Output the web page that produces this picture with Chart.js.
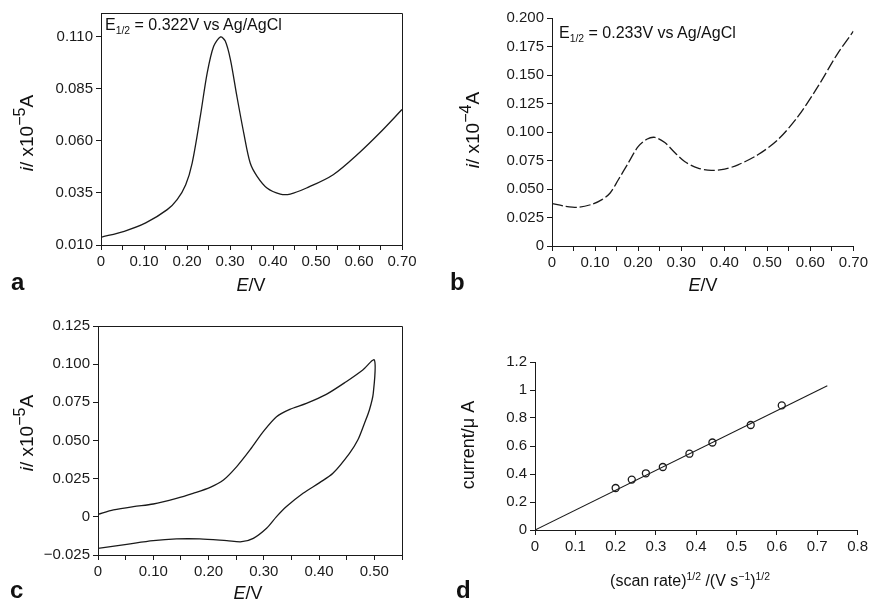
<!DOCTYPE html>
<html>
<head>
<meta charset="utf-8">
<script src="https://cdn.jsdelivr.net/npm/chart.js@4"></script>
<style>
  html,body{margin:0;padding:0;background:#fff;}
  body{width:871px;height:601px;position:relative;overflow:hidden;font-family:"Liberation Sans",Arial,Helvetica,sans-serif;color:#111;}
  canvas{position:absolute;}
  .t{position:absolute;white-space:nowrap;line-height:1;}
  .ytitle{transform:translate(-50%,-50%) rotate(-90deg);font-size:19px;}
  .ytitle sup{font-size:85%;}
  .xtitle{transform:translate(-50%,-50%);font-size:18px;}
  .lab{font-weight:bold;font-size:24px;}
  .ann{font-size:16px;}
  sub,sup{font-size:65%;line-height:0;}
</style>
</head>
<body>
<canvas id="ca" width="435" height="300" style="left:0;top:0;"></canvas>
<canvas id="cb" width="431" height="300" style="left:440px;top:0;"></canvas>
<canvas id="cc" width="435" height="301" style="left:0;top:300px;"></canvas>
<canvas id="cd" width="431" height="301" style="left:440px;top:300px;"></canvas>

<div class="t ann" style="left:105px;top:17px;">E<sub>1/2</sub> = 0.322V vs Ag/AgCl</div>
<div class="t ann" style="left:559px;top:25px;">E<sub>1/2</sub> = 0.233V vs Ag/AgCl</div>

<div class="t ytitle" style="left:26px;top:133px;"><i>i</i>/ x10<sup>−5</sup>A</div>
<div class="t ytitle" style="left:472px;top:130px;"><i>i</i>/ x10<sup>−4</sup>A</div>
<div class="t ytitle" style="left:26px;top:433px;"><i>i</i>/ x10<sup>−5</sup>A</div>
<div class="t ytitle" style="left:468px;top:445px;font-size:18px;">current/μ A</div>

<div class="t xtitle" style="left:251px;top:285px;"><i>E</i>/V</div>
<div class="t xtitle" style="left:703px;top:285px;"><i>E</i>/V</div>
<div class="t xtitle" style="left:248px;top:593px;"><i>E</i>/V</div>
<div class="t xtitle" style="left:690px;top:581px;font-size:16px;">(scan rate)<sup>1/2</sup> /(V s<sup>−1</sup>)<sup>1/2</sup></div>

<div class="t lab" style="left:11px;top:270px;">a</div>
<div class="t lab" style="left:450px;top:270px;">b</div>
<div class="t lab" style="left:10px;top:578px;">c</div>
<div class="t lab" style="left:456px;top:578px;">d</div>

<script>
// ---------- Panel a data ----------
const aE = [0,0.054,0.104,0.154,0.177,0.197,0.212,0.231,0.247,0.262,0.278,0.289,0.301,0.316,0.332,0.347,0.363,0.386,0.417,0.440,0.478,0.540,0.602,0.648,0.700];
const aI = [0.0137,0.0166,0.0206,0.0270,0.0318,0.0390,0.0494,0.0719,0.0927,0.1055,0.1100,0.1080,0.0991,0.0815,0.0638,0.0494,0.0430,0.0374,0.0345,0.0345,0.0374,0.0438,0.0546,0.0638,0.0751];
const aXTicks = [0,0.05,0.10,0.15,0.20,0.25,0.30,0.35,0.40,0.45,0.50,0.55,0.60,0.65,0.70];
const aXLabels = ['0','','0.10','','0.20','','0.30','','0.40','','0.50','','0.60','','0.70'];
const aYTicks = [0.010,0.035,0.060,0.085,0.110];
const aYLabels = ['0.010','0.035','0.060','0.085','0.110'];

// ---------- Panel b data ----------
const bE = [0,0.031,0.062,0.093,0.116,0.135,0.154,0.177,0.200,0.220,0.239,0.262,0.285,0.308,0.339,0.370,0.401,0.432,0.478,0.524,0.571,0.617,0.663,0.700];
const bI = [0.0372,0.0349,0.0340,0.0366,0.0407,0.0465,0.0581,0.0727,0.0872,0.0936,0.0953,0.0907,0.0820,0.0741,0.0683,0.0663,0.0674,0.0712,0.0800,0.0930,0.1134,0.1395,0.1686,0.1884];
const bXTicks = [0,0.05,0.10,0.15,0.20,0.25,0.30,0.35,0.40,0.45,0.50,0.55,0.60,0.65,0.70];
const bXLabels = ['0','','0.10','','0.20','','0.30','','0.40','','0.50','','0.60','','0.70'];
const bYTicks = [0,0.025,0.050,0.075,0.100,0.125,0.150,0.175,0.200];
const bYLabels = ['0','0.025','0.050','0.075','0.100','0.125','0.150','0.175','0.200'];

// ---------- Panel c data (cyclic voltammogram, closed loop) ----------
const cE = [0,0.028,0.064,0.100,0.142,0.172,0.203,0.227,0.251,0.275,0.299,0.323,0.347,0.377,0.413,0.449,0.479,0.500,
            0.498,0.491,0.482,0.470,0.455,0.425,0.401,0.371,0.341,0.323,0.305,0.281,0.260,0.233,0.184,0.142,0.100,0.052,0];
const cI = [0.0016,0.0045,0.0067,0.0084,0.0121,0.0154,0.0193,0.0241,0.0329,0.0438,0.0558,0.0656,0.0704,0.0743,0.0802,0.0885,0.0962,0.1027,
            0.0809,0.0700,0.0612,0.0503,0.0416,0.0285,0.0224,0.0154,0.0067,0.0001,-0.0075,-0.0141,-0.0163,-0.0156,-0.0145,-0.0145,-0.0156,-0.0180,-0.0206];
const cXTicks = [0,0.05,0.10,0.15,0.20,0.25,0.30,0.35,0.40,0.45,0.50,0.55];
const cXLabels = ['0','','0.10','','0.20','','0.30','','0.40','','0.50',''];
const cYTicks = [-0.025,0,0.025,0.050,0.075,0.100,0.125];
const cYLabels = ['−0.025','0','0.025','0.050','0.075','0.100','0.125'];

// ---------- Panel d data ----------
const dX = [0.200,0.240,0.275,0.317,0.383,0.440,0.535,0.612];
const dY = [0.300,0.360,0.405,0.450,0.545,0.625,0.750,0.890];
const dFitX = [0,0.725];
const dFitY = [0,1.03];
const dXTicks = [0,0.1,0.2,0.3,0.4,0.5,0.6,0.7,0.8];
const dXLabels = ['0','0.1','0.2','0.3','0.4','0.5','0.6','0.7','0.8'];
const dYTicks = [0,0.2,0.4,0.6,0.8,1.0,1.2];
const dYLabels = ['0','0.2','0.4','0.6','0.8','1','1.2'];

const F = '"Liberation Sans", Arial, Helvetica, sans-serif';
const INK = '#1a1a1a';

const frame = {
  id: 'frame',
  afterDraw(chart) {
    const {ctx, chartArea: a} = chart;
    ctx.save();
    ctx.strokeStyle = INK;
    ctx.lineWidth = 1;
    const l = Math.round(a.left) + 0.5, t = Math.round(a.top) + 0.5;
    const r = Math.round(a.right) + 0.5, b = Math.round(a.bottom) + 0.5;
    ctx.beginPath();
    ctx.moveTo(l, t); ctx.lineTo(r, t); ctx.lineTo(r, b);
    ctx.stroke();
    ctx.restore();
  }
};

function axis(min, max, ticks, labels, fitProp, fitVal) {
  return {
    type: 'linear',
    min: min, max: max,
    afterBuildTicks: s => { s.ticks = ticks.map(v => ({value: v})); },
    afterFit: s => { s[fitProp] = fitVal; },
    ticks: {
      autoSkip: false, maxRotation: 0, minRotation: 0,
      callback: (v, i) => labels[i],
      color: INK, padding: 3,
      font: {size: 15, family: F}
    },
    grid: {drawOnChartArea: false, drawTicks: true, tickLength: 5, color: INK, lineWidth: 1},
    border: {display: true, color: INK, width: 1}
  };
}

function pts(xs, ys) { return xs.map((x, i) => ({x: x, y: ys[i]})); }

function make(id, datasets, xAxis, yAxis, padding, plugins) {
  return new Chart(document.getElementById(id), {
    type: 'scatter',
    data: {datasets: datasets},
    options: {
      responsive: false, animation: false,
      layout: {padding: padding},
      plugins: {legend: {display: false}, tooltip: {enabled: false}},
      scales: {x: xAxis, y: yAxis}
    },
    plugins: plugins || []
  });
}

const curve = (data, dash) => ({
  data: data, showLine: true, borderColor: INK, borderWidth: 1.3,
  pointRadius: 0, tension: 0.3, borderDash: dash || [], fill: false
});

// Panel a
make('ca', [curve(pts(aE, aI))],
  axis(0, 0.70, aXTicks, aXLabels, 'height', 55),
  axis(0.010, 0.1215, aYTicks, aYLabels, 'width', 101),
  {left: 0, right: 33, top: 13, bottom: 0}, [frame]);

// Panel b
make('cb', [curve(pts(bE, bI), [11, 3])],
  axis(0, 0.70, bXTicks, bXLabels, 'height', 54),
  axis(0, 0.200, bYTicks, bYLabels, 'width', 112),
  {left: 0, right: 15, top: 18, bottom: 0});

// Panel c
make('cc', [curve(pts(cE, cI))],
  axis(0, 0.55, cXTicks, cXLabels, 'height', 46),
  axis(-0.025, 0.125, cYTicks, cYLabels, 'width', 98),
  {left: 0, right: 33, top: 26, bottom: 0}, [frame]);

// Panel d
make('cd', [
    {data: pts(dFitX, dFitY), showLine: true, borderColor: INK, borderWidth: 1.1, pointRadius: 0, tension: 0},
    {data: pts(dX, dY), showLine: false, pointRadius: 3.5, pointBorderWidth: 1.3,
     pointBorderColor: INK, pointBackgroundColor: 'rgba(255,255,255,0)'}
  ],
  axis(0, 0.8, dXTicks, dXLabels, 'height', 71),
  axis(0, 1.2, dYTicks, dYLabels, 'width', 95),
  {left: 0, right: 13, top: 62, bottom: 0});
</script>
</body>
</html>
